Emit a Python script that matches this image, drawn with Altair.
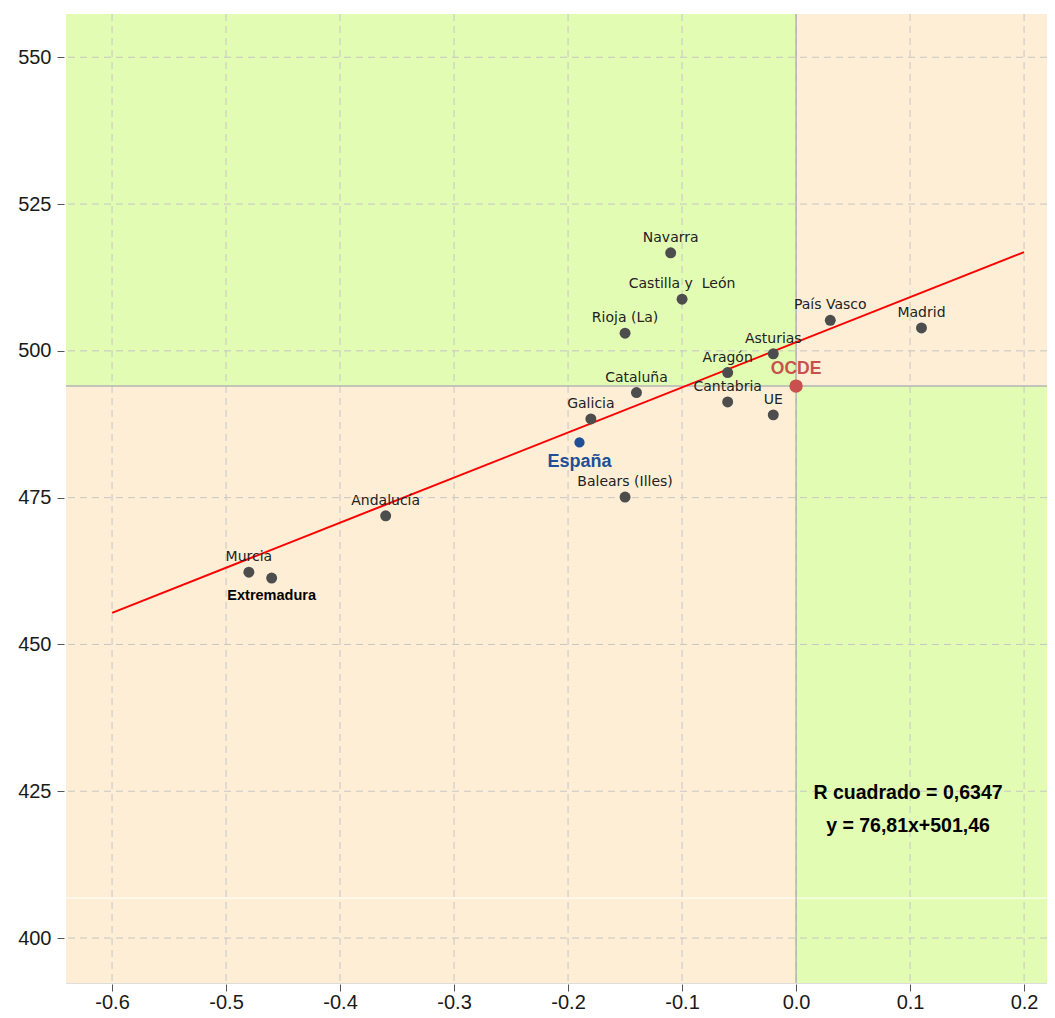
import altair as alt
import pandas as pd

# ---- data ----
regions = ["Navarra", "Castilla y\u00a0 León", "Rioja (La)", "País Vasco", "Madrid", "Asturias",
           "Aragón", "Cataluña", "Cantabria", "UE", "Galicia", "Balears (Illes)",
           "Andalucía", "Murcia", "Extremadura", "España", "OCDE"]
x_vals = [-0.11, -0.10, -0.15, 0.03, 0.11, -0.02,
          -0.06, -0.14, -0.06, -0.02, -0.18, -0.15,
          -0.36, -0.48, -0.46, -0.19, 0.00]
y_vals = [516.7, 508.8, 503.0, 505.2, 503.9, 499.5,
          496.3, 492.9, 491.3, 489.1, 488.4, 475.1,
          471.9, 462.3, 461.3, 484.4, 494.0]
group = ["r"] * 15 + ["es", "oc"]

oecd_mean_y = 494.0
slope, intercept = 76.81, 501.46
fit_x = [-0.6, 0.2]
annot = ["R cuadrado = 0,6347", "y = 76,81x+501,46"]

x_ticks = [-0.6, -0.5, -0.4, -0.3, -0.2, -0.1, 0.0, 0.1, 0.2]
y_ticks = [400, 425, 450, 475, 500, 525, 550]
x_dom = [-0.6404, 0.2201]
y_dom = [392.34, 557.37]

GREEN = "#e3fcb3"
ORANGE = "#feeed6"
FONT = "Liberation Sans"
LFONT = "DejaVu Sans"

df = pd.DataFrame({"region": regions, "x": x_vals, "y": y_vals, "g": group})
fit = pd.DataFrame({"x": fit_x, "y": [slope * v + intercept for v in fit_x]})
quads = pd.DataFrame({
    "x": [-1.0, 0.0, -1.0, 0.0],
    "x2": [0.0, 1.0, 0.0, 1.0],
    "y": [oecd_mean_y, oecd_mean_y, 300.0, 300.0],
    "y2": [700.0, 700.0, oecd_mean_y, oecd_mean_y],
    "c": [GREEN, ORANGE, ORANGE, GREEN],
})

xs = alt.Scale(domain=x_dom, nice=False, zero=False)
ys = alt.Scale(domain=y_dom, nice=False, zero=False)

xaxis = alt.Axis(values=x_ticks, title=None, grid=False, domain=False,
                 labelExpr="replace(format(datum.value, '.1f'), '\u2212', '-')",
                 tickColor="#555555", tickSize=7, offset=1,
                 labelFont=FONT, labelFontSize=20, labelColor="#1a1a1a", labelPadding=1)
yaxis = alt.Axis(values=y_ticks, format="d", title=None, grid=False, domain=False,
                 tickColor="#555555", tickSize=7, offset=2,
                 labelFont=FONT, labelFontSize=20, labelColor="#1a1a1a", labelPadding=6)

bg = alt.Chart(quads).mark_rect(clip=True, strokeWidth=0).encode(
    x=alt.X("x:Q", scale=xs, axis=xaxis), x2="x2:Q",
    y=alt.Y("y:Q", scale=ys, axis=yaxis), y2="y2:Q",
    color=alt.Color("c:N", scale=None, legend=None),
)

# gridlines drawn above the background
grid_x = alt.Chart(pd.DataFrame({"x": x_ticks})).mark_rule(
    color="#c6c6c6", strokeDash=[7, 5], strokeWidth=1).encode(x=alt.X("x:Q", scale=xs))
grid_y = alt.Chart(pd.DataFrame({"y": y_ticks})).mark_rule(
    color="#c6c6c6", strokeDash=[7, 5], strokeWidth=1).encode(y=alt.Y("y:Q", scale=ys))

white_line = alt.Chart(pd.DataFrame({"y": [406.8]})).mark_rule(
    color="white", strokeWidth=1).encode(y=alt.Y("y:Q", scale=ys))

vline = alt.Chart(pd.DataFrame({"x": [0.0]})).mark_rule(
    color="#b5b5b5", strokeWidth=1.5).encode(x=alt.X("x:Q", scale=xs))
hline = alt.Chart(pd.DataFrame({"y": [oecd_mean_y]})).mark_rule(
    color="#b5b5b5", strokeWidth=1.5).encode(y=alt.Y("y:Q", scale=ys))

fit_line = alt.Chart(fit).mark_line(color="#ff0000", strokeWidth=2, clip=True).encode(
    x=alt.X("x:Q", scale=xs), y=alt.Y("y:Q", scale=ys))

base = alt.Chart(df).encode(x=alt.X("x:Q", scale=xs), y=alt.Y("y:Q", scale=ys))

pts = base.transform_filter("datum.g == 'r'").mark_circle(
    size=120, color="#4d4d4d", opacity=1)
pt_es = base.transform_filter("datum.g == 'es'").mark_circle(
    size=105, color="#1f4f97", opacity=1)
pt_oc = base.transform_filter("datum.g == 'oc'").mark_circle(
    size=180, color="#c9504f", opacity=1)

lbl = base.transform_filter("datum.g == 'r' && datum.region != 'Extremadura'").mark_text(
    font=LFONT, fontSize=14, color="#222222", dy=-15, baseline="middle", align="center"
).encode(text="region:N")
lbl_ext = base.transform_filter("datum.region == 'Extremadura'").mark_text(
    font=FONT, fontSize=14.5, fontWeight="bold", color="#000000", dy=18,
    baseline="middle", align="center"
).encode(text="region:N")
lbl_es = base.transform_filter("datum.g == 'es'").mark_text(
    font=FONT, fontSize=18, fontWeight="bold", color="#1f4f97", dy=20,
    baseline="middle", align="center"
).encode(text="region:N")
lbl_oc = base.transform_filter("datum.g == 'oc'").mark_text(
    font=FONT, fontSize=17.5, fontWeight="bold", color="#c9504f", dy=-17,
    baseline="middle", align="center"
).encode(text="region:N")

annot_df = pd.DataFrame({"t": annot, "i": [0, 1]})
ann = alt.Chart(annot_df).mark_text(
    font=FONT, fontSize=19.5, fontWeight="bold", color="#000000", align="center",
    baseline="middle"
).encode(
    x=alt.value(842),
    y=alt.Y("i:Q", axis=None, scale=alt.Scale(domain=[0, 1], range=[779, 812], nice=False, zero=False)),
    text="t:N",
)

chart = alt.layer(
    bg, grid_x, grid_y, white_line, vline, hline, fit_line,
    pts, pt_es, pt_oc, lbl, lbl_ext, lbl_es, lbl_oc, ann
).resolve_scale(y="independent").properties(
    width=981, height=969,
    autosize=alt.AutoSizeParams(type="none"),
    padding={"left": 58, "top": 6, "right": 0, "bottom": 27},
).configure_view(strokeWidth=0).configure(background="white")

chart.save("out.html", embed_options={"renderer": "svg", "actions": False})
